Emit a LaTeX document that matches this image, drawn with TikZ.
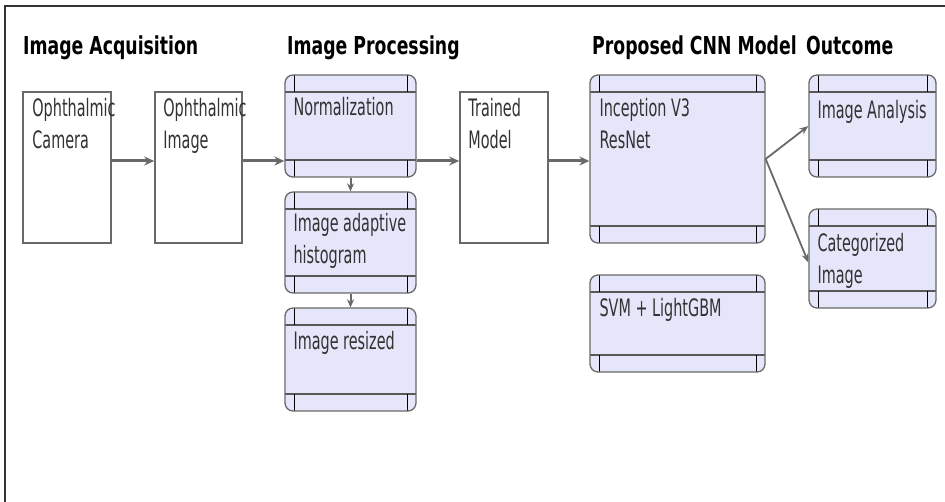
\documentclass[tikz,border=0pt]{standalone}
\usepackage{fontspec}
\usepackage{xcolor}
\usepackage{tikz}
\usetikzlibrary{arrows.meta}
\newfontfamily\headfont[FakeStretch=0.70]{DejaVu Sans}
\newfontfamily\bodyfont[FakeStretch=0.60]{DejaVu Sans}
\definecolor{lavbox}{RGB}{230,230,250}
\definecolor{edgegray}{RGB}{105,105,105}
\definecolor{bandgray}{RGB}{88,88,88}
\definecolor{textgray}{RGB}{50,50,50}

\begin{document}
\begin{tikzpicture}[x=1pt, y=-1pt,
	plainbox/.style={draw=edgegray, line width=1.6pt, fill=white, inner sep=0pt},
	procbox/.style={draw=edgegray, line width=1.3pt, fill=lavbox, rounded corners=8pt, inner sep=0pt,
		path picture={
			\draw[bandgray, line width=2.6pt] ([yshift=-17pt]path picture bounding box.north west) -- ([yshift=-17pt]path picture bounding box.north east);
			\draw[bandgray, line width=2.6pt] ([yshift=17pt]path picture bounding box.south west) -- ([yshift=17pt]path picture bounding box.south east);
			\draw[black, line width=0.9pt] ([xshift=9pt]path picture bounding box.north west) -- ([xshift=9pt,yshift=-17pt]path picture bounding box.north west);
			\draw[black, line width=0.9pt] ([xshift=-9pt]path picture bounding box.north east) -- ([xshift=-9pt,yshift=-17pt]path picture bounding box.north east);
			\draw[black, line width=0.9pt] ([xshift=9pt]path picture bounding box.south west) -- ([xshift=9pt,yshift=17pt]path picture bounding box.south west);
			\draw[black, line width=0.9pt] ([xshift=-9pt]path picture bounding box.south east) -- ([xshift=-9pt,yshift=17pt]path picture bounding box.south east);
		}},
	boxtext/.style={anchor=north west, inner sep=0pt, align=left, text=textgray,
		font=\bodyfont\fontsize{24}{32}\selectfont, execute at begin node={\rule{0pt}{18.5pt}}},
	heading/.style={anchor=base west, inner sep=0pt, font=\headfont\bfseries\fontsize{24.7}{30}\selectfont},
	flow/.style={draw=edgegray, line width=3pt, -{Stealth[length=10pt, width=9pt]}},
	step arrow/.style={draw=edgegray, line width=2pt, -{Stealth[length=8pt, width=7pt]}},
	fan/.style={draw=edgegray, line width=1.8pt, -{Stealth[length=9pt, width=7pt]}}]
			\useasboundingbox (0,0) rectangle (945,502);
			% Frame
			\draw[black!80, line width=1.8pt] (945,6) -- (5,6) -- (5,502);
			% Headings
			\node[heading] (h-acq) at (23,55) {Image Acquisition};
			\node[heading] (h-proc) at (287,55) {Image Processing};
			\node[heading] (h-cnn) at (592,55) {Proposed CNN Model};
			\node[heading] (h-out) at (806,55) {Outcome};
			% Nodes
			\node[plainbox, minimum width=88pt, minimum height=151pt] (camera) at (67,167.5) {};
			\node[plainbox, minimum width=87pt, minimum height=151pt] (ophimg) at (198.5,167.5) {};
			\node[procbox, minimum width=131pt, minimum height=102pt] (norm) at (350.5,126) {};
			\node[procbox, minimum width=131pt, minimum height=101pt] (hist) at (350.5,242.5) {};
			\node[procbox, minimum width=131pt, minimum height=103pt] (resized) at (350.5,359.5) {};
			\node[plainbox, minimum width=88pt, minimum height=151pt] (trained) at (504,167.5) {};
			\node[procbox, minimum width=175pt, minimum height=168pt] (cnn) at (677.5,159) {};
			\node[procbox, minimum width=175pt, minimum height=97pt] (svm) at (677.5,323.5) {};
			\node[procbox, minimum width=127pt, minimum height=102pt] (analysis) at (872.5,126) {};
			\node[procbox, minimum width=127pt, minimum height=99pt] (categ) at (872.5,258.5) {};
			% Texts (first baseline sits 18.5pt below the anchor)
			\node[boxtext] (camera-t) at ([shift={(10pt,-6.5pt)}]camera.north west) {Ophthalmic\\Camera};
			\node[boxtext] (ophimg-t) at ([shift={(9pt,-6.5pt)}]ophimg.north west) {Ophthalmic\\Image};
			\node[boxtext] (norm-t) at ([shift={(9pt,-22.5pt)}]norm.north west) {Normalization};
			\node[boxtext] (hist-t) at ([shift={(9pt,-21.5pt)}]hist.north west) {Image adaptive\\histogram};
			\node[boxtext] (resized-t) at ([shift={(9pt,-23.5pt)}]resized.north west) {Image resized};
			\node[boxtext] (trained-t) at ([shift={(9pt,-6.5pt)}]trained.north west) {Trained\\Model};
			\node[boxtext] (cnn-t) at ([shift={(10pt,-23.5pt)}]cnn.north west) {Inception V3\\ResNet};
			\node[boxtext] (svm-t) at ([shift={(10pt,-23.5pt)}]svm.north west) {SVM + LightGBM};
			\node[boxtext] (analysis-t) at ([shift={(9pt,-25.5pt)}]analysis.north west) {Image Analysis};
			\node[boxtext] (categ-t) at ([shift={(9pt,-24.5pt)}]categ.north west) {Categorized\\Image};
			% Edges
			\coordinate (line) at (0,161);
			\draw[flow] (camera.east |- line) -- (ophimg.west |- line);
			\draw[flow] (ophimg.east |- line) -- (norm.west |- line);
			\draw[flow] (norm.east |- line) -- (trained.west |- line);
			\draw[flow] (trained.east |- line) -- (cnn.west |- line);
			\draw[step arrow] (norm.south) -- (hist.north);
			\draw[step arrow] (hist.south) -- (resized.north);
			\draw[fan] (cnn.east) -- (analysis.west);
			\draw[fan] (cnn.east) -- ([yshift=-4pt]categ.west);
		\end{tikzpicture}
\end{document}
